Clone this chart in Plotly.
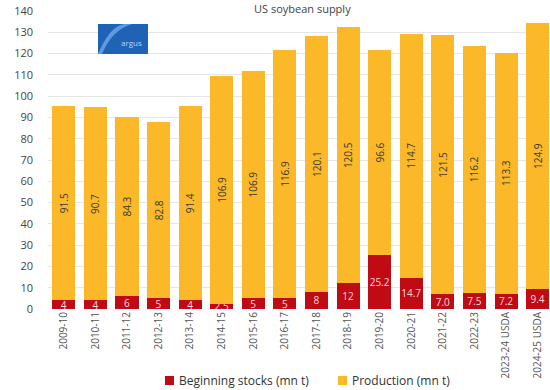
import plotly.graph_objects as go

# US soybean supply, million tonnes
seasons = ["2009-10", "2010-11", "2011-12", "2012-13", "2013-14", "2014-15",
           "2015-16", "2016-17", "2017-18", "2018-19", "2019-20", "2020-21",
           "2021-22", "2022-23", "2023-24 USDA", "2024-25 USDA"]
beginning_stocks = [4, 4, 6, 5, 4, 2.5, 5, 5, 8, 12, 25.2, 14.7, 7.0, 7.5, 7.2, 9.4]
stocks_labels = ["4", "4", "6", "5", "4", "2.5", "5", "5", "8", "12", "25.2", "14.7",
                 "7.0", "7.5", "7.2", "9.4"]
production = [91.5, 90.7, 84.3, 82.8, 91.4, 106.9, 106.9, 116.9, 120.1, 120.5,
              96.6, 114.7, 121.5, 116.2, 113.3, 124.9]
y_ticks = list(range(0, 150, 10))
series_names = ["Beginning stocks (mn t)", "Production (mn t)"]

RED = "#C00A14"
GOLD = "#FBB829"
FONT = "Open Sans"

W, H = 550, 390
L, R, T, B = 48, 0, 11, 81
PW, PH = W - L - R, H - T - B


def px_x(p):
    return (p - L) / PW


def px_y(p):
    return (H - B - p) / PH


fig = go.Figure()
fig.add_trace(go.Bar(
    x=seasons, y=beginning_stocks, name=series_names[0],
    marker=dict(color=RED, line=dict(width=0)),
    text=stocks_labels, textposition="inside", insidetextanchor="middle",
    textangle=0, textfont=dict(color="#F6DADA", size=10, family=FONT),
    cliponaxis=True, hoverinfo="x+y",
))
fig.add_trace(go.Bar(
    x=seasons, y=production, name=series_names[1],
    marker=dict(color=GOLD, line=dict(width=0)),
    text=[f"{v:.1f}" for v in production], textposition="inside",
    insidetextanchor="middle", textangle=-90,
    textfont=dict(color="#3A3A3A", size=10, family=FONT),
    hoverinfo="x+y",
))

# small blue brand badge
bx0, bx1, by0, by1 = px_x(98), px_x(148), px_y(54), px_y(24)
shapes = [
    dict(type="rect", xref="paper", yref="paper", x0=bx0, x1=bx1, y0=by0, y1=by1,
         fillcolor="#1E63B5", line=dict(width=0), layer="above"),
    dict(type="path", xref="paper", yref="paper", layer="above",
         path=(f"M {bx0},{by0} Q {px_x(110)},{px_y(26)} {px_x(124)},{by1} "
               f"L {px_x(132)},{by1} Q {px_x(112)},{px_y(30)} {px_x(102)},{by0} Z"),
         fillcolor="#6FA8E8", line=dict(width=0), opacity=0.8),
]

# legend drawn below the category labels: swatch + caption per series
annotations = [
    dict(text="US soybean supply", xref="paper", yref="paper",
         x=px_x(302), y=px_y(-1), xanchor="center", yanchor="top",
         showarrow=False, font=dict(size=11, color="#444444", family=FONT)),
    dict(text="argus", xref="paper", yref="paper",
         x=px_x(144), y=px_y(50), xanchor="right", yanchor="bottom",
         showarrow=False, font=dict(size=8, color="#BFD6F2", family=FONT)),
]
for name, color, sx in zip(series_names, [RED, GOLD], [165, 338]):
    shapes.append(dict(type="rect", xref="paper", yref="paper",
                       x0=px_x(sx), x1=px_x(sx + 9), y0=px_y(385), y1=px_y(376),
                       fillcolor=color, line=dict(width=0)))
    annotations.append(dict(text=name, xref="paper", yref="paper",
                            x=px_x(sx + 12), y=px_y(380.5), xanchor="left",
                            yanchor="middle", showarrow=False,
                            font=dict(size=12, color="#333333", family=FONT)))

fig.update_layout(
    width=W, height=H,
    margin=dict(l=L, r=R, t=T, b=B, autoexpand=False),
    barmode="stack", bargap=0.27,
    uniformtext=dict(minsize=10, mode="show"),
    paper_bgcolor="white", plot_bgcolor="white",
    font=dict(family=FONT, color="#444444", size=11),
    showlegend=False,
    shapes=shapes,
    annotations=annotations,
    xaxis=dict(type="category", range=[-0.5, 15.39], tickangle=-90, showgrid=False,
               showline=False, ticks="", tickfont=dict(size=10, color="#555555"),
               fixedrange=True),
    yaxis=dict(range=[0, 140], tickvals=y_ticks, showgrid=True,
               gridcolor="#E6E6E6", gridwidth=1, zeroline=False, showline=False,
               ticks="", ticklabelstandoff=14,
               tickfont=dict(size=11, color="#444444"), fixedrange=True),
)

fig.write_html("out.html")
